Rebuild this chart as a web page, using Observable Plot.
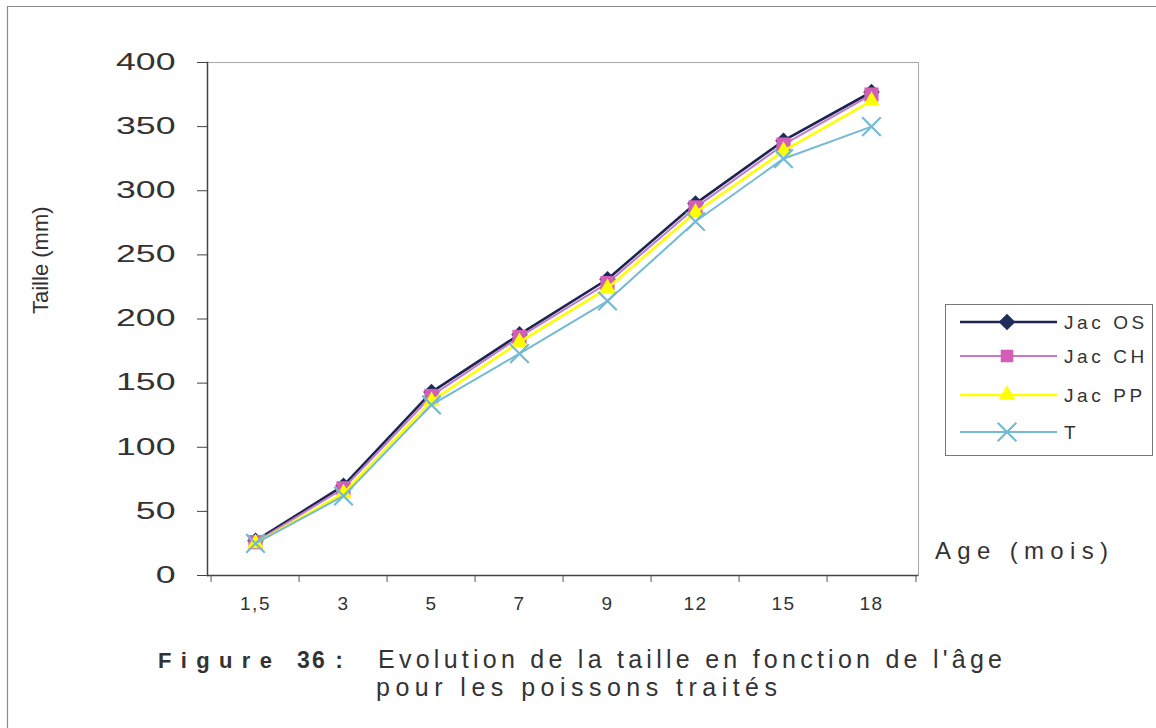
<!DOCTYPE html>
<html><head><meta charset="utf-8">
<script src="https://cdn.jsdelivr.net/npm/d3@7"></script>
<script src="https://cdn.jsdelivr.net/npm/@observablehq/plot@0.6"></script>
<style>
body{margin:0;background:#fff;}
#wrap{position:relative;width:1156px;height:728px;overflow:hidden;background:#fff;}
g[aria-label="x-axis tick label"] text{letter-spacing:1.5px;}
</style></head><body><div id="wrap"></div>
<script>
// ---- data ----
const ages = ["1,5","3","5","7","9","12","15","18"];
const seriesNames = ["Jac OS","Jac CH","Jac PP","T"];
const jacOS  = [27, 70, 143, 188, 231, 290, 339, 377];
const jacCH  = [26, 68, 140, 186, 228, 287, 336, 375];
const jacPP  = [25, 64, 136, 182, 224, 283, 331, 370];
const temoin = [25, 62, 133, 173, 214, 276, 325, 350];
const yTicks = [0, 50, 100, 150, 200, 250, 300, 350, 400];
const yLabel = "Taille (mm)";
const xLabel = "Age (mois)";
const captionFig = "Figure";
const captionNum = "36 :";
const captionLine1 = "Evolution de la taille en fonction de l'âge";
const captionLine2 = "pour les poissons traités";

// ---- styles ----
const lineColors = ["#1b2550", "#c27ac8", "#ffff00", "#74bad6"];
const markColors = ["#1f2d5c", "#d25fb5", "#ffff00", "#74bad6"];
const lineWidths = [2.6, 2, 2.6, 2];
const symbols = ["diamond2", "square", "triangle2", "times"];
const markR = [7.5, 8, 8, 8.5];

const seriesValues = [jacOS, jacCH, jacPP, temoin];
const rows = seriesNames.map((s, k) => ages.map((a, i) => ({series: s, age: a, value: seriesValues[k][i]})));

const W = 1156, H = 728, mL = 207, mR = 238, mT = 62, mB = 153;
const step = (W - mL - mR) / ages.length;
const font = "'Liberation Sans', Arial, sans-serif";

const marks = [
  Plot.frame({stroke: "#a8a8a8", strokeWidth: 1}),
  Plot.ruleY([0], {stroke: "#444", strokeWidth: 1.5}),
  Plot.frame({anchor: "left", stroke: "#444", strokeWidth: 1.5}),
  Plot.axisY({ticks: yTicks, tickSize: 10, tickPadding: 22, fontSize: 23, label: null, stroke: "#444", fill: "#333"}),
  Plot.axisX({tickSize: 0, tickPadding: 21, fontSize: 19, label: null, fill: "#333"}),
  Plot.ruleX(ages, {x: d => d, y1: 0, y2: -5.5, dx: -step / 2, stroke: "#555"}),
  Plot.ruleX([ages[ages.length - 1]], {x: d => d, y1: 0, y2: -5.5, dx: step / 2, stroke: "#555"}),
  Plot.text([yLabel], {frameAnchor: "left", rotate: -90, dx: -167, dy: -5, fontSize: 22, fill: "#333", text: d => d})
];
rows.forEach((r, k) => {
  marks.push(Plot.line(r, {x: "age", y: "value", stroke: lineColors[k], strokeWidth: lineWidths[k]}));
  if (symbols[k] === "times") {
    marks.push(Plot.dot(r, {x: "age", y: "value", symbol: () => symbols[k], r: markR[k], stroke: markColors[k], strokeWidth: 2.2, fill: "none"}));
  } else {
    marks.push(Plot.dot(r, {x: "age", y: "value", symbol: () => symbols[k], r: markR[k], fill: markColors[k], stroke: "none"}));
  }
});

const svg = Plot.plot({
  width: W, height: H,
  marginLeft: mL, marginRight: mR, marginTop: mT, marginBottom: mB,
  style: {fontFamily: font, background: "#fff", color: "#333"},
  x: {type: "point", domain: ages, padding: 0.5, label: null, axis: null},
  y: {domain: [0, 400], label: null, axis: null},
  symbol: {type: "identity"},
  marks
});
document.getElementById("wrap").appendChild(svg);

// widen y tick labels (the original uses an extended face)
d3.select(svg).selectAll('g[aria-label="y-axis tick label"] text').each(function () {
  const t = d3.select(this);
  const tr = t.attr("transform");
  if (tr) t.attr("transform", tr + " scale(1.55,1)");
  else {
    const x = +t.attr("x") || 0, y = +t.attr("y") || 0;
    t.attr("x", null).attr("y", null).attr("transform", `translate(${x},${y}) scale(1.55,1)`);
  }
});

const s = d3.select(svg);
// outer border (left and top edges)
s.append("path").attr("d", "M7.5,728V6.5H1156").attr("fill", "none").attr("stroke", "#8a8a8a").attr("stroke-width", 1.2);

const extra = s.append("g").attr("text-anchor", "start").attr("font-family", font);

// x-axis title
extra.append("text").text(xLabel).attr("x", 935).attr("y", 559).attr("font-size", 24)
  .attr("fill", "#333").attr("textLength", 173).attr("lengthAdjust", "spacing");

// legend
const lg = extra.append("g");
lg.append("rect").attr("x", 945.5).attr("y", 304.5).attr("width", 207).attr("height", 151)
  .attr("fill", "#fff").attr("stroke", "#777").attr("stroke-width", 1);
const rowsY = [322, 356, 395, 432];
seriesNames.forEach((name, k) => {
  const y = rowsY[k];
  lg.append("line").attr("x1", 960).attr("x2", 1057).attr("y1", y).attr("y2", y)
    .attr("stroke", lineColors[k]).attr("stroke-width", lineWidths[k]);
  const sym = {diamond2: d3.symbolDiamond2, square: d3.symbolSquare2, triangle2: d3.symbolTriangle2, times: d3.symbolTimes}[symbols[k]];
  const p = lg.append("path").attr("d", d3.symbol(sym, Math.PI * markR[k] * markR[k])()).attr("transform", `translate(1007,${y})`);
  if (symbols[k] === "times") p.attr("fill", "none").attr("stroke", markColors[k]).attr("stroke-width", 2.2);
  else p.attr("fill", markColors[k]);
  lg.append("text").text(name).attr("x", 1064).attr("y", y + 6.5).attr("font-size", 19)
    .attr("fill", "#333").style("letter-spacing", "3.6px");
});

// caption
extra.append("text").text(captionFig).attr("x", 158).attr("y", 668).attr("font-size", 22).attr("font-weight", "bold")
  .attr("fill", "#333").attr("textLength", 114).attr("lengthAdjust", "spacing");
extra.append("text").text(captionNum).attr("x", 297).attr("y", 668).attr("font-size", 23).attr("font-weight", "bold")
  .attr("fill", "#333").attr("textLength", 46).attr("lengthAdjust", "spacing");
extra.append("text").text(captionLine1).attr("x", 378).attr("y", 668).attr("font-size", 25)
  .attr("fill", "#333").attr("textLength", 624).attr("lengthAdjust", "spacing");
extra.append("text").text(captionLine2).attr("x", 376).attr("y", 696).attr("font-size", 25)
  .attr("fill", "#333").attr("textLength", 401).attr("lengthAdjust", "spacing");
</script></body></html>
